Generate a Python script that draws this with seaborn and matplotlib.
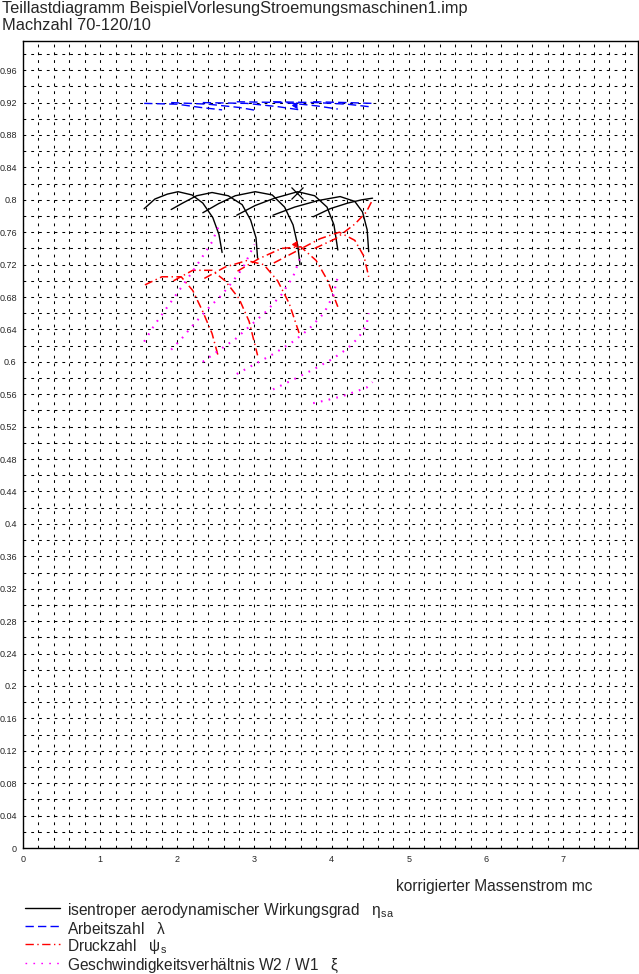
import numpy as np
import pandas as pd
import matplotlib
matplotlib.use("Agg")
import matplotlib.pyplot as plt
from matplotlib.lines import Line2D
import seaborn as sns

# speed lines, Machzahl 70..120
speeds = [70, 80, 90, 100, 110, 120]

# isentroper Wirkungsgrad (black, solid)
eta_x = [
    [1.57, 1.71, 1.87, 2.01, 2.19, 2.33, 2.46, 2.54, 2.58],
    [1.92, 2.07, 2.25, 2.45, 2.66, 2.84, 2.95, 3.02, 3.04],
    [2.33, 2.53, 2.75, 3.01, 3.23, 3.39, 3.50, 3.56, 3.59],
    [2.77, 3.01, 3.26, 3.56, 3.78, 3.94, 4.03, 4.08],
    [3.24, 3.52, 3.82, 4.11, 4.30, 4.40, 4.46, 4.48],
    [3.76, 3.98, 4.21, 4.39, 4.53],
]
eta_y = [
    [0.789, 0.801, 0.807, 0.810, 0.806, 0.796, 0.778, 0.757, 0.735],
    [0.788, 0.796, 0.805, 0.809, 0.805, 0.794, 0.775, 0.753, 0.728],
    [0.784, 0.795, 0.805, 0.810, 0.806, 0.791, 0.769, 0.744, 0.720],
    [0.781, 0.793, 0.802, 0.810, 0.805, 0.791, 0.769, 0.738],
    [0.781, 0.791, 0.799, 0.804, 0.798, 0.785, 0.763, 0.736],
    [0.779, 0.789, 0.796, 0.800, 0.802],
]

# Arbeitszahl lambda (blue, dashed)
lam_x = [
    [1.57, 2.00, 2.30, 2.58],
    [1.92, 2.40, 2.80, 3.04],
    [2.33, 2.90, 3.30, 3.59],
    [2.77, 3.40, 3.80, 4.08],
    [3.24, 3.80, 4.20, 4.48],
    [3.76, 4.20, 4.53],
]
lam_y = [
    [0.919, 0.918, 0.914, 0.911],
    [0.920, 0.918, 0.914, 0.910],
    [0.920, 0.919, 0.915, 0.911],
    [0.921, 0.920, 0.916, 0.912],
    [0.921, 0.920, 0.918, 0.915],
    [0.921, 0.920, 0.919],
]

# Druckzahl psi_s (red, dash-dot)
psi_x = [
    [1.58, 1.80, 2.05, 2.20, 2.33, 2.45, 2.53],
    [1.95, 2.20, 2.45, 2.62, 2.80, 2.93, 3.04],
    [2.35, 2.62, 2.90, 3.12, 3.30, 3.45, 3.58],
    [2.78, 3.05, 3.35, 3.60, 3.80, 3.95, 4.08],
    [3.25, 3.55, 3.85, 4.10, 4.30, 4.42, 4.48],
    [3.78, 4.05, 4.30, 4.45, 4.53],
]
psi_y = [
    [0.695, 0.705, 0.705, 0.688, 0.662, 0.635, 0.607],
    [0.700, 0.713, 0.713, 0.700, 0.678, 0.650, 0.608],
    [0.703, 0.717, 0.725, 0.720, 0.700, 0.672, 0.635],
    [0.712, 0.727, 0.740, 0.742, 0.725, 0.700, 0.668],
    [0.722, 0.737, 0.752, 0.760, 0.750, 0.730, 0.705],
    [0.740, 0.752, 0.770, 0.785, 0.800],
]

# Geschwindigkeitsverhaeltnis W2/W1 xi (magenta, dotted)
xi_x = [
    [1.57, 1.70, 1.85, 2.00, 2.15, 2.30, 2.45, 2.53],
    [1.92, 2.05, 2.20, 2.40, 2.55, 2.70, 2.85, 3.00],
    [2.33, 2.55, 2.75, 2.95, 3.15, 3.35, 3.50, 3.59],
    [2.77, 3.00, 3.25, 3.50, 3.70, 3.90, 4.02, 4.08],
    [3.24, 3.50, 3.75, 4.00, 4.20, 4.35, 4.45, 4.48],
    [3.76, 3.95, 4.15, 4.30, 4.45, 4.53],
]
xi_y = [
    [0.625, 0.645, 0.665, 0.685, 0.705, 0.726, 0.748, 0.766],
    [0.615, 0.628, 0.645, 0.666, 0.680, 0.697, 0.716, 0.745],
    [0.600, 0.615, 0.628, 0.645, 0.662, 0.683, 0.705, 0.728],
    [0.585, 0.597, 0.610, 0.625, 0.640, 0.660, 0.682, 0.705],
    [0.566, 0.578, 0.590, 0.603, 0.616, 0.630, 0.645, 0.660],
    [0.549, 0.553, 0.558, 0.563, 0.568, 0.575],
]

# design point markers
design_x = [3.55]
design_eta = [0.809]
design_x2 = [3.49]
design_lam = [0.917]
design_psi = [0.745]


def to_frame(xs, ys):
    rows = []
    for n, (xx, yy) in zip(speeds, zip(xs, ys)):
        for a, b in zip(xx, yy):
            rows.append((n, a, b))
    return pd.DataFrame(rows, columns=["n", "mc", "val"])


sns.set_style("white")
plt.rcParams["font.family"] = ["Liberation Sans", "DejaVu Sans"]
plt.rcParams["lines.scale_dashes"] = False
plt.rcParams["mathtext.default"] = "regular"

fig = plt.figure(figsize=(6.39, 9.74), dpi=100)
ax = fig.add_axes([23 / 639, 126 / 974, 615 / 639, 807 / 974])

ls_lam = (0, (6, 3))
ls_psi = (0, (6, 2.5, 1, 2.5))
ls_xi = (0, (1.2, 4.5))
series = [
    (eta_x, eta_y, "black", "-", 1.0),
    (lam_x, lam_y, "blue", ls_lam, 1.0),
    (psi_x, psi_y, "red", ls_psi, 1.1),
    (xi_x, xi_y, "magenta", ls_xi, 1.5),
]
for xs, ys, col, ls, lw in series:
    df = to_frame(xs, ys)
    sns.lineplot(data=df, x="mc", y="val", units="n", estimator=None, sort=False,
                 color=col, linestyle=ls, lw=lw, legend=False, ax=ax)

ax.plot(design_x, design_eta, marker="x", color="black", ms=9, mew=0.9, ls="none")
ax.plot(design_x2, design_lam, marker=4, color="blue", ms=5, mew=0.8, ls="none")
ax.plot(design_x2, design_psi, marker=4, color="red", ms=5, mew=0.8, ls="none")

ax.set_xlim(0, 7.97)
ax.set_ylim(0, 0.996)
ax.set_xticks(np.arange(0, 8, 1))
ax.set_xticks(np.arange(0, 7.97, 0.2), minor=True)
ax.set_yticks(np.arange(0, 0.97, 0.04))
ax.set_yticks(np.arange(0, 0.99, 0.02), minor=True)
ax.set_xticklabels([str(i) for i in range(8)])
ax.set_yticklabels([f"{round(v, 2):g}" for v in np.arange(0, 0.97, 0.04)])
ax.tick_params(axis="x", which="both", direction="inout", length=6, width=0.8,
               labelsize=6.5, pad=2)
ax.tick_params(axis="y", which="both", direction="out", length=4, width=0.8,
               labelsize=6.5, pad=0.5)
ax.set_xlabel("")
ax.set_ylabel("")
ax.grid(True, which="both", color="black", lw=0.75, linestyle=(0, (2.0, 3.6)))
for sp in ax.spines.values():
    sp.set_color("black")
    sp.set_linewidth(1.0)

fig.text(2 / 639, 1 - 8 / 974, "Teillastdiagramm BeispielVorlesungStroemungsmaschinen1.imp",
         fontsize=11.8, va="center", ha="left")
fig.text(2 / 639, 1 - 25 / 974, "Machzahl 70-120/10", fontsize=11.8, va="center", ha="left")
fig.text(592 / 639, 1 - 886 / 974, "korrigierter Massenstrom mc", fontsize=11.2,
         va="center", ha="right")

legend_rows = [
    ("black", "-", r"isentroper aerodynamischer Wirkungsgrad   $\eta_{sa}$", 911),
    ("blue", ls_lam, r"Arbeitszahl   $\lambda$", 929),
    ("red", ls_psi, r"Druckzahl   $\psi_{s}$", 947),
    ("magenta", ls_xi, r"Geschwindigkeitsverhältnis W2 / W1   $\xi$", 966),
]
for col, ls, txt, py in legend_rows:
    yy = 1 - (py - 3) / 974
    fig.add_artist(Line2D([25 / 639, 60 / 639], [yy, yy], color=col, linestyle=ls,
                          lw=1.0, transform=fig.transFigure))
    fig.text(67 / 639, 1 - py / 974, txt, fontsize=11.2, va="center", ha="left")

fig.savefig("out.png", dpi=100)
